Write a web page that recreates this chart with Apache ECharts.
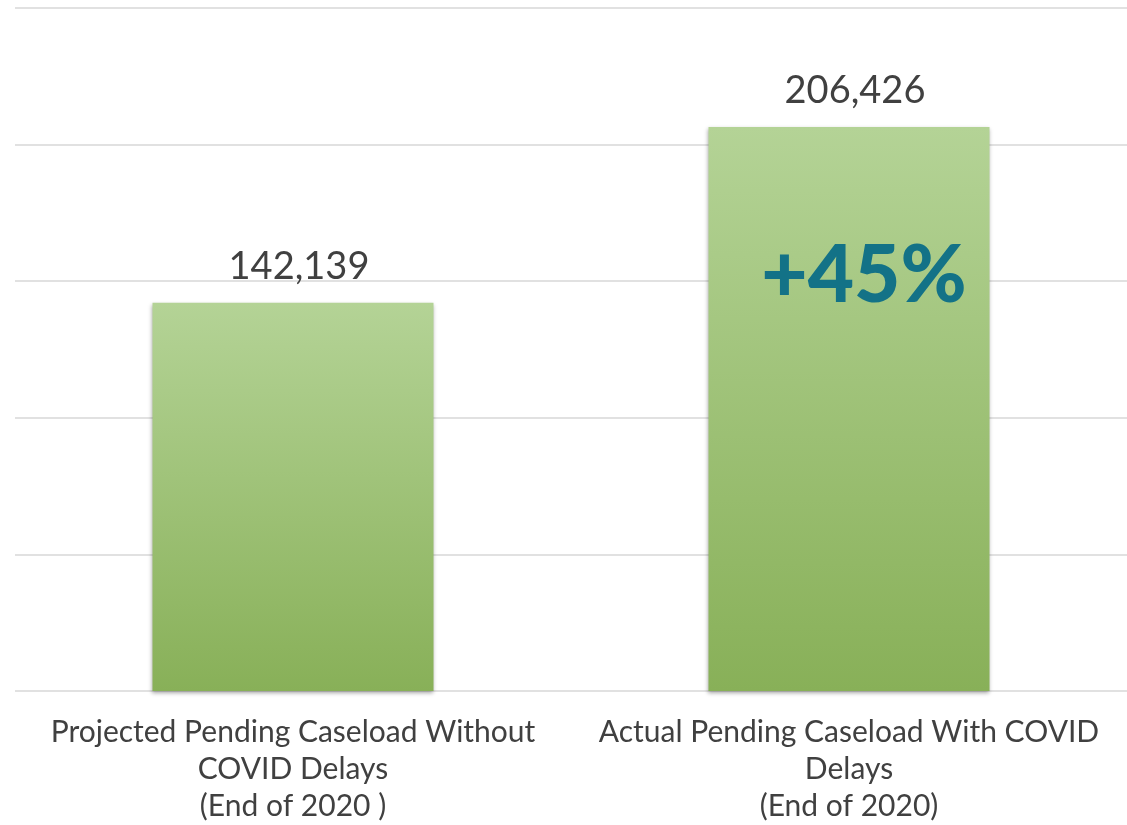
<!DOCTYPE html>
<html>
<head>
<meta charset="utf-8">
<script src="https://cdn.jsdelivr.net/npm/echarts@6/dist/echarts.min.js"></script>
<style>
html,body{margin:0;padding:0;background:#fff;}
#c{width:1127px;height:825px;}
</style>
</head>
<body>
<div id="c"></div>
<script>
const categories = [
  'Projected Pending Caseload Without\nCOVID Delays\n(End of 2020 )',
  'Actual Pending Caseload With COVID\nDelays\n(End of 2020)'
];
const caseloads = [142139, 206426];
const changeLabel = '+45%';
const changeLabelValue = 151750;
const axisMax = 250000;
const axisInterval = 50000;

const chart = echarts.init(document.getElementById('c'));
chart.setOption({
  animation: false,
  grid: { left: 15, right: -5, top: 8, bottom: 126 },
  xAxis: {
    type: 'category',
    data: categories,
    axisLine: { show: false },
    axisTick: { show: false },
    axisLabel: {
      interval: 0,
      margin: 23,
      fontFamily: 'Lato',
      fontSize: 30,
      lineHeight: 37,
      color: '#404040',
      align: 'center'
    }
  },
  yAxis: {
    type: 'value',
    min: 0,
    max: axisMax,
    interval: axisInterval,
    axisLabel: { show: false },
    axisLine: { show: false },
    axisTick: { show: false },
    splitLine: { lineStyle: { color: '#E1E1E1', width: 2 } }
  },
  series: [{
    type: 'bar',
    data: caseloads,
    barWidth: 281,
    itemStyle: {
      color: new echarts.graphic.LinearGradient(0, 0, 0, 1, [
        { offset: 0, color: '#B4D396' },
        { offset: 1, color: '#88B058' }
      ]),
      shadowColor: 'rgba(0,0,0,0.35)',
      shadowBlur: 4,
      shadowOffsetX: -1,
      shadowOffsetY: 2
    },
    label: {
      show: true,
      position: 'top',
      distance: 17,
      offset: [6, 0],
      fontFamily: 'Lato',
      fontSize: 38,
      lineHeight: 38,
      color: '#404040',
      formatter: p => p.value.toLocaleString('en-US')
    },
    markPoint: {
      symbol: 'circle',
      symbolSize: 0,
      data: [{
        coord: [1, changeLabelValue],
        label: {
          show: true,
          position: 'inside',
          offset: [15, 0],
          formatter: changeLabel,
          fontFamily: 'Lato',
          fontWeight: 900,
          fontSize: 80,
          color: '#137287'
        }
      }]
    }
  }]
});
</script>
</body>
</html>
